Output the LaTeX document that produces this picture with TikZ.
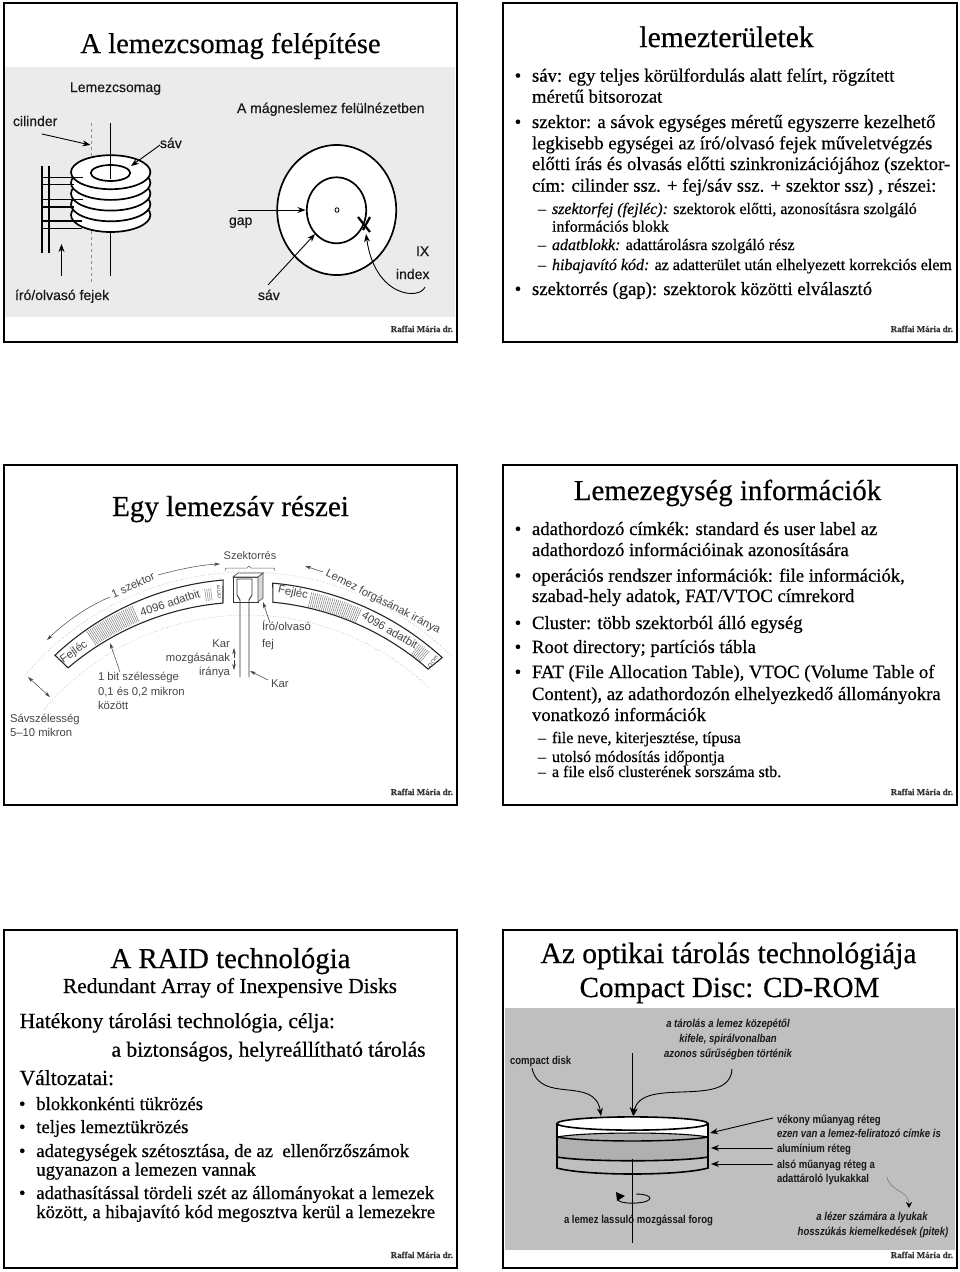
\documentclass[tikz,border=0pt]{standalone}
\usepackage{fontspec}
\setmainfont[FakeBold=0.5]{Liberation Serif}
\newfontfamily\arial[FakeBold=0.4]{Liberation Sans}
\newfontfamily\arialn[FakeStretch=0.84]{Liberation Sans}
\usetikzlibrary{arrows.meta}
\definecolor{paneA}{gray}{0.92}
\definecolor{paneB}{gray}{0.75}
\definecolor{hatchgray}{gray}{0.69}
\definecolor{inkgray}{gray}{0.27}
\newcommand\fs[1]{\fontsize{#1}{#1}\selectfont}
\newcommand\tx[5]{\node[#1] (#2) at (#3,#4) {#5};}
\tikzset{
  lab/.style={anchor=base west,inner sep=0pt,outer sep=0pt},
  labr/.style={anchor=base east,inner sep=0pt,outer sep=0pt},
  labc/.style={anchor=base,inner sep=0pt,outer sep=0pt},
  frameb/.style={draw=black,line width=2pt,fill=white},
  ttl/.style={labc,font=\fs{#1}},
  body/.style={lab,font=\fs{18.7}},
  subb/.style={lab,font=\fs{16}},
  big/.style={lab,font=\fs{21.5}},
  sign/.style={labr,font=\fs{8.9}\bfseries,text=black!80},
  sa/.style={lab,font=\arial\fs{14},text=black!90},
  sb/.style={lab,font=\fontspec{Liberation Sans}\fs{11.3},text=inkgray},
  sbr/.style={labr,font=\fontspec{Liberation Sans}\fs{11.3},text=inkgray},
  sbc/.style={labc,font=\fontspec{Liberation Sans}\fs{11},text=inkgray},
  rotl/.style={inner sep=0pt,font=\fontspec{Liberation Sans}\fs{11.3},text=inkgray,rotate=#1},
  tiny/.style={inner sep=0pt,align=center,font=\fontspec{Liberation Sans}\fs{5.5},text=inkgray,rotate=#1},
  sc/.style={lab,font=\arialn\bfseries\fs{11.4},text=black!90},
  sci/.style={labc,font=\arialn\bfseries\itshape\fs{11.4},text=black!90},
  sct/.style={labc,font=\arialn\bfseries\fs{11.4},text=black!90},
  ah/.style={-{Stealth[length=8pt,width=6pt]},line width=.9pt,black},
  ahg/.style={-{Stealth[length=6pt,width=3.5pt]},line width=.5pt,inkgray},
  ahgb/.style={{Stealth[length=6pt,width=3.5pt]}-{Stealth[length=6pt,width=3.5pt]},line width=.5pt,inkgray},
  track/.style={draw=black!45,line width=.5pt,dotted},
  sector/.style={draw=black!85,line width=1.1pt},
}
\begin{document}
\begin{tikzpicture}[x=1pt,y=-1pt]
\useasboundingbox (0,0) rectangle (960,1272);
\fill[white] (0,0) rectangle (960,1272);

% --- frames
\draw[frameb] (4,3) rectangle (457,342);
\draw[frameb] (503,3) rectangle (957,342);
\draw[frameb] (4,465) rectangle (457,805);
\draw[frameb] (503,465) rectangle (957,805);
\draw[frameb] (4,930) rectangle (457,1268);
\draw[frameb] (503,930) rectangle (957,1268);
\fill[paneA] (5,67) rectangle (455,317);
\fill[paneB] (505,1008) rectangle (955,1250);

% --- signatures
\tx{sign}{sgA}{453}{332}{Raffai Mária dr.}
\tx{sign}{sgB}{953}{332}{Raffai Mária dr.}
\tx{sign}{sgC}{453}{795}{Raffai Mária dr.}
\tx{sign}{sgD}{953}{795}{Raffai Mária dr.}
\tx{sign}{sgE}{453}{1258}{Raffai Mária dr.}
\tx{sign}{sgF}{953}{1258}{Raffai Mária dr.}

% --- slide 1
\tx{ttl=28.6}{tA}{230.5}{53}{A lemezcsomag felépítése}
\tx{sa}{a1}{70}{92}{Lemezcsomag}
\tx{sa}{a2}{237}{113}{A mágneslemez felülnézetben}
\tx{sa}{a3}{13}{126}{cilinder}
\tx{sa}{a4}{160}{148}{sáv}
\tx{sa}{a5}{229}{225}{gap}
\tx{sa}{a6}{416}{256}{IX}
\tx{sa}{a7}{396}{279}{index}
\tx{sa}{a8}{15}{300}{író/olvasó fejek}
\tx{sa}{a9}{258}{300}{sáv}
\draw[black!45,line width=.6pt,dashed] (91.5,123) -- (91.5,283);
\draw[black,line width=1.1pt] (110.5,232) -- (110.5,276);
\foreach \cy in {215,204.3,193.6,182.9,172.2}
  \draw[black,line width=1.7pt,fill=white] (110.7,\cy) ellipse [x radius=39.7,y radius=17];
\draw[black,line width=1.7pt,fill=white] (110.5,173) ellipse [x radius=19.7,y radius=8];
\draw[black,line width=1.1pt] (110.5,123) -- (110.5,179);
\draw[black,line width=1.6pt] (42,166) -- (42,253);
\draw[black,line width=1.6pt] (49,166) -- (49,253);
\foreach \hy/\hx in {177.5/83,184.5/74,199.5/83,207/74,221/82,228.5/82}
  \draw[black,line width=1.4pt] (42,\hy) -- (\hx,\hy);
\coordinate (pc1) at (42,134); \coordinate (pc2) at (90.5,145);
\draw[ah] (pc1) -- (pc2);
\coordinate (pd1) at (160,145); \coordinate (pd2) at (131,166);
\draw[ah] (pd1) -- (pd2);
\coordinate (pe1) at (61.5,276); \coordinate (pe2) at (61.5,244);
\draw[ah] (pe1) -- (pe2);
\draw[black,line width=1.7pt,fill=white] (336.7,210) ellipse [x radius=59.5,y radius=65];
\draw[black,line width=1.7pt,fill=white] (336.5,210.3) ellipse [x radius=29.7,y radius=33];
\draw[black,line width=.8pt] (337,210) ellipse [x radius=2,y radius=2.3];
\coordinate (pf1) at (238,210); \coordinate (pf2) at (305.5,210);
\draw[ah] (pf1) -- (pf2);
\coordinate (pg1) at (268,285); \coordinate (pg2) at (315,234);
\draw[ah] (pg1) -- (pg2);
\draw[black,line width=2.2pt] (358,217) -- (370,232) (370,217) -- (363,230);
\coordinate (ph1) at (425,287); \coordinate (ph2) at (366,234);
\draw[ah] (ph1) .. controls (420,300) and (375,298) .. (ph2);

% --- slide 2
\tx{ttl=29.6}{tB}{726.5}{47}{lemezterületek}
\tx{body}{b0a}{514.7}{81.7}{•}
\tx{body}{b1}{532}{81.7}{sáv: egy teljes körülfordulás alatt felírt, rögzített}
\tx{body}{b2}{532}{102.7}{méretű bitsorozat}
\tx{body}{b0b}{514.7}{128}{•}
\tx{body}{b3}{532}{128}{szektor: a sávok egységes méretű egyszerre kezelhető}
\tx{body}{b4}{532}{149.3}{legkisebb egységei az író/olvasó fejek műveletvégzés}
\tx{body}{b5}{532}{170}{előtti írás és olvasás előtti szinkronizációjához (szektor-}
\tx{body}{b6}{532}{191.7}{cím: cilinder ssz. + fej/sáv ssz. + szektor ssz) , részei:}
\tx{subb}{d1}{538}{214}{–}
\tx{subb}{b7}{552}{214}{\textit{szektorfej (fejléc):} szektorok előtti, azonosításra szolgáló}
\tx{subb}{b8}{552}{231.7}{információs blokk}
\tx{subb}{d2}{538}{250}{–}
\tx{subb}{b9}{552}{250}{\textit{adatblokk:} adattárolásra szolgáló rész}
\tx{subb}{d3}{538}{270}{–}
\tx{subb}{b10}{552}{270}{\textit{hibajavító kód:} az adatterület után elhelyezett korrekciós elem}
\tx{body}{b0c}{514.7}{295}{•}
\tx{body}{b11}{532}{295}{szektorrés (gap): szektorok közötti elválasztó}

% --- slide 3
\tx{ttl=29}{tC}{230.5}{516}{Egy lemezsáv részei}
\draw[track] plot[samples=60,domain=-50:45,variable=\a] ({247+291*sin(\a)},{863-291*cos(\a)});
\draw[track] plot[samples=60,domain=-50:44,variable=\a] ({247+265*sin(\a)},{880-265*cos(\a)});
% sectors
\foreach \ang in {-34,-33.6,...,-23.6}
  \draw[black!55,line width=.45pt] ({247+270*sin(\ang)},{869-270*cos(\ang)}) -- ({247+287*sin(\ang)},{869-287*cos(\ang)});
\foreach \ang in {13,13.4,...,23.4}
  \draw[black!55,line width=.45pt] ({247+273*sin(\ang)},{873-273*cos(\ang)}) -- ({247+288*sin(\ang)},{873-288*cos(\ang)});
\foreach \ang in {-8.6,-8.2,...,-7}
  \draw[black!55,line width=.4pt] ({247+271*sin(\ang)},{869-271*cos(\ang)}) -- ({247+283*sin(\ang)},{869-283*cos(\ang)});
\foreach \ang in {37,37.4,...,39.6}
  \draw[black!55,line width=.4pt] ({247+273*sin(\ang)},{873-273*cos(\ang)}) -- ({247+287*sin(\ang)},{873-287*cos(\ang)});
\draw[sector] plot[samples=40,domain=-43.3:-4.9,variable=\a] ({247+280*sin(\a)},{859-280*cos(\a)}) -- plot[samples=40,domain=-5:-40.4,variable=\a] ({247+276*sin(\a)},{878-276*cos(\a)}) -- cycle;
\draw[sector] plot[samples=40,domain=5.1:42.3,variable=\a] ({247+290*sin(\a)},{872-290*cos(\a)}) -- plot[samples=40,domain=41.2:5.4,variable=\a] ({247+275*sin(\a)},{876-275*cos(\a)}) -- cycle;
\tx{sbc}{c1}{250}{559}{Szektorrés}
\draw[black!60,line width=.5pt] (225,571) .. controls (225,568) .. (230,568) -- (247,568) -- (249,566) -- (251,568) -- (270,568) .. controls (275,568) .. (275,571);
\node[rotl=24] (c2) at (133,585) {1 szektor};
\node[rotl=18] (c3) at (170,603) {4096 adatbit};
\node[rotl=35] (c4) at (74,652) {Fejléc};
\node[rotl=-12] (c5) at (293,593) {Fejléc};
\node[rotl=-30] (c6) at (390,630) {4096 adatbit};
\node[rotl=-27] (c7) at (383,602) {Lemez forgásának iránya};
\node[tiny=5] (c8) at (219,592) {E\\[-1pt]C\\[-1pt]C};
\node[tiny=-40] (c9) at (433,661.5) {E\\[-1pt]C\\[-1pt]C};
\tx{sb}{c10}{262}{630}{Író/olvasó}
\tx{sb}{c11}{262}{647}{fej}
\tx{sbr}{c12}{230}{647}{Kar}
\tx{sbr}{c13}{230}{661}{mozgásának}
\tx{sbr}{c14}{230}{675}{iránya}
\tx{sb}{c15}{271}{687}{Kar}
\tx{sb}{c16}{98}{680}{1 bit szélessége}
\tx{sb}{c17}{98}{695}{0,1 és 0,2 mikron}
\tx{sb}{c18}{98}{709}{között}
\tx{sb}{c19}{10}{722}{Sávszélesség}
\tx{sb}{c20}{10}{736}{5–10 mikron}
% head and arm
\draw[black!80,line width=.9pt,fill=white] (233,577) -- (258,577) -- (258,602) -- (233,602) -- cycle;
\draw[black!70,line width=.6pt,fill=black!15] (258,577) -- (263,573) -- (263,598) -- (258,602) -- cycle;
\draw[black!70,line width=.7pt,fill=white] (233,577) -- (238,573) -- (263,573) -- (258,577) -- cycle;
\draw[black!80,line width=.9pt] (240,677) -- (240,600) -- (237,595) -- (237,579) -- (252,579) -- (252,595) -- (249,600) -- (249,677);
\coordinate (q1) at (110,597); \coordinate (q2) at (47,640);
\draw[ahg] (q1) .. controls (90,605) and (65,622) .. (q2);
\coordinate (q3) at (158,575); \coordinate (q4) at (220,564);
\draw[ahg] (q3) .. controls (180,569) and (200,565) .. (q4);
\coordinate (q5) at (323,572); \coordinate (q6) at (305,566);
\draw[ahg] (q5) -- (q6);
\coordinate (q7) at (270,623); \coordinate (q8) at (263,602);
\draw[ahg] (q7) -- (q8);
\coordinate (q9) at (268,680); \coordinate (q10) at (250,671);
\draw[ahg] (q9) -- (q10);
\coordinate (q11) at (120,672); \coordinate (q12) at (110,643);
\draw[ahg] (q11) -- (q12);
\coordinate (q13) at (28,677); \coordinate (q14) at (50,697);
\draw[ahgb] (q13) -- (q14);
\coordinate (q15) at (234,658); \coordinate (q16) at (234,648);
\draw[ahg] (q15) -- (q16);
\coordinate (q17) at (234,660); \coordinate (q18) at (234,670);
\draw[ahg] (q17) -- (q18);

% --- slide 4
\tx{ttl=28.9}{tD}{727.5}{500}{Lemezegység információk}
\tx{body}{e0a}{514.7}{535}{•}
\tx{body}{e1}{532}{535}{adathordozó címkék: standard és user label az}
\tx{body}{e2}{532}{556}{adathordozó információinak azonosítására}
\tx{body}{e0b}{514.7}{581.7}{•}
\tx{body}{e3}{532}{581.7}{operációs rendszer információk: file információk,}
\tx{body}{e4}{532}{602}{szabad-hely adatok, FAT/VTOC címrekord}
\tx{body}{e0c}{514.7}{629}{•}
\tx{body}{e5}{532}{629}{Cluster: több szektorból álló egység}
\tx{body}{e0d}{514.7}{653}{•}
\tx{body}{e6}{532}{653}{Root directory; partíciós tábla}
\tx{body}{e0e}{514.7}{678}{•}
\tx{body}{e7}{532}{678}{FAT (File Allocation Table), VTOC (Volume Table of}
\tx{body}{e8}{532}{700}{Content), az adathordozón elhelyezkedő állományokra}
\tx{body}{e9}{532}{721}{vonatkozó információk}
\tx{subb}{f1}{538}{743}{–}
\tx{subb}{e10}{552}{743}{file neve, kiterjesztése, típusa}
\tx{subb}{f2}{538}{762}{–}
\tx{subb}{e11}{552}{762}{utolsó módosítás időpontja}
\tx{subb}{f3}{538}{777}{–}
\tx{subb}{e12}{552}{777}{a file első clusterének sorszáma stb.}

% --- slide 5
\tx{ttl=28.8}{tE}{230.5}{968}{A RAID technológia}
\tx{ttl=21.4}{tE2}{230}{993}{Redundant Array of Inexpensive Disks}
\tx{big}{g1}{19.7}{1028}{Hatékony tárolási technológia, célja:}
\tx{big}{g2}{111.5}{1056.7}{a biztonságos, helyreállítható tárolás}
\tx{big}{g3}{19.7}{1085}{Változatai:}
\tx{body}{h0a}{19}{1110}{•}
\tx{body}{h1}{36.3}{1110}{blokkonkénti tükrözés}
\tx{body}{h0b}{19}{1133}{•}
\tx{body}{h2}{36.3}{1133}{teljes lemeztükrözés}
\tx{body}{h0c}{19}{1157}{•}
\tx{body}{h3}{36.3}{1157}{adategységek szétosztása, de az\ \ ellenőrzőszámok}
\tx{body}{h4}{36.3}{1175.7}{ugyanazon a lemezen vannak}
\tx{body}{h0d}{19}{1199}{•}
\tx{body}{h5}{36.3}{1199}{adathasítással tördeli szét az állományokat a lemezek}
\tx{body}{h6}{36.3}{1218}{között, a hibajavító kód megosztva kerül a lemezekre}

% --- slide 6
\tx{ttl=29.5}{tF}{728.5}{963}{Az optikai tárolás technológiája}
\tx{ttl=29.1}{tF2}{729.5}{997}{Compact Disc: CD-ROM}
\tx{sc}{k1}{510}{1064}{compact disk}
\tx{sci}{k2}{728}{1027}{a tárolás a lemez közepétől}
\tx{sci}{k3}{728}{1042}{kifele, spirálvonalban}
\tx{sci}{k4}{728}{1057}{azonos sűrűségben történik}
\tx{sc}{k5}{777}{1123}{vékony műanyag réteg}
\tx{sc}{k6}{777}{1137}{\itshape ezen van a lemez-feliratozó címke is}
\tx{sc}{k7}{777}{1152}{alumínium réteg}
\tx{sc}{k8}{777}{1168}{alsó műanyag réteg a}
\tx{sc}{k9}{777}{1182}{adattároló lyukakkal}
\tx{sct}{k10}{638.5}{1223}{a lemez lassuló mozgással forog}
\tx{sci}{k11}{872}{1220}{a lézer számára a lyukak}
\tx{sci}{k12}{873}{1235}{hosszúkás kiemelkedések (pitek)}
% disk
\draw[black,line width=1.6pt] (557,1123.5) -- (557,1168) .. controls (585,1176) and (680,1176) .. (708,1168) -- (708,1123.5);
\fill[hatchgray] (557,1137) .. controls (585,1131.7) and (680,1131.7) .. (708,1137) -- (708,1157) .. controls (680,1162) and (585,1162) .. (557,1157) -- cycle;
\fill[white] (557,1123.5) -- (557,1137) .. controls (585,1131.7) and (680,1131.7) .. (708,1137) -- (708,1123.5) -- cycle;
\draw[black,line width=1.1pt] (557,1137) .. controls (585,1131.7) and (680,1131.7) .. (708,1137);
\draw[black,line width=1.4pt] (557,1137) .. controls (585,1142.3) and (680,1142.3) .. (708,1137);
\draw[black,line width=1.6pt] (557,1157) .. controls (585,1162) and (680,1162) .. (708,1157);
\draw[black,line width=1.6pt] (557,1123.5) -- (557,1168) (708,1123.5) -- (708,1168);
\draw[black,line width=1.6pt,fill=white] (632.5,1123.5) ellipse [x radius=75.5,y radius=6.6];
\coordinate (r1) at (632.7,1053); \coordinate (r2) at (632.7,1115);
\draw[ah] (r1) -- (r2);
\draw[black,line width=.9pt] (632.7,1159) -- (632.7,1243);
\coordinate (r3) at (532,1068); \coordinate (r4) at (601,1116);
\draw[ah] (r3) .. controls (540,1105) and (595,1075) .. (r4);
\coordinate (r5) at (732,1069); \coordinate (r6) at (633.5,1116);
\draw[ah] (r5) .. controls (730,1110) and (640,1075) .. (r6);
\coordinate (r7) at (773,1118); \coordinate (r8) at (710,1133);
\draw[ah] (r7) -- (r8);
\coordinate (r9) at (773,1148); \coordinate (r10) at (711,1148);
\draw[ah] (r9) -- (r10);
\coordinate (r11) at (773,1164); \coordinate (r12) at (711,1164);
\draw[ah] (r11) -- (r12);
\coordinate (r13) at (887,1177); \coordinate (r14) at (909,1208);
\draw[-{Stealth[length=6pt,width=6pt,black]},line width=.5pt,black!55] (r13) .. controls (890,1192) and (909,1190) .. (r14);
\draw[black,line width=.9pt] (620,1196) .. controls (612,1203) and (630,1203.5) .. (636,1203) .. controls (655,1202) and (654,1194) .. (636,1194);
\fill[black] (616,1192) -- (625,1196) -- (617,1201) -- cycle;
\end{tikzpicture}
\end{document}
